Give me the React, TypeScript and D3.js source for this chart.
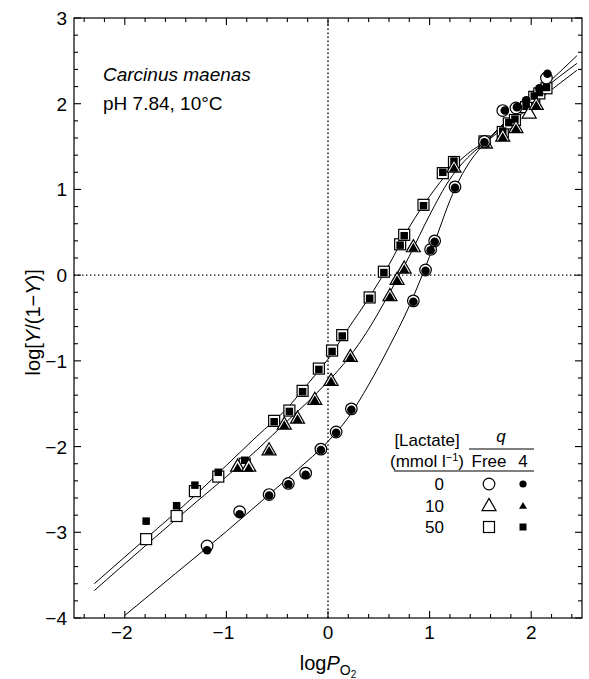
import React from 'react';
import * as d3 from 'd3';

// log PO2 vs log[Y/(1-Y)], Carcinus maenas
const xTickLabels = [-2, -1, 0, 1, 2];
const yTickLabels = [-4, -3, -2, -1, 0, 1, 2, 3];

// lactate 0 mmol/l
const circFree = [[-1.19, -3.16], [-0.87, -2.76], [-0.58, -2.56], [-0.39, -2.43], [-0.22, -2.31], [-0.07, -2.03], [0.08, -1.83], [0.23, -1.56], [0.84, -0.30], [0.96, 0.06], [1.01, 0.30], [1.05, 0.40], [1.25, 1.03], [1.54, 1.56], [1.72, 1.92], [1.85, 1.95], [2.15, 2.30]];
const circQ4 = [[-1.19, -3.21], [-0.87, -2.79], [-0.58, -2.57], [-0.39, -2.44], [-0.22, -2.33], [-0.07, -2.04], [0.08, -1.84], [0.23, -1.57], [0.84, -0.31], [0.96, 0.05], [1.01, 0.29], [1.05, 0.39], [1.25, 1.02], [1.54, 1.55], [1.74, 1.92], [1.86, 1.96], [1.95, 2.04], [2.08, 2.18], [2.16, 2.35]];
// lactate 10
const triFree = [[-0.89, -2.24], [-0.78, -2.24], [-0.58, -2.05], [-0.43, -1.75], [-0.30, -1.68], [-0.13, -1.46], [0.03, -1.24], [0.22, -0.96], [0.61, -0.25], [0.68, -0.06], [0.75, 0.07], [0.84, 0.32], [1.24, 1.25], [1.55, 1.53], [1.72, 1.61], [1.85, 1.71], [1.98, 1.88], [2.05, 1.98]];
const triQ4 = [[-0.89, -2.26], [-0.78, -2.26], [-0.58, -2.06], [-0.43, -1.76], [-0.30, -1.69], [-0.13, -1.47], [0.03, -1.25], [0.22, -0.97], [0.61, -0.26], [0.68, -0.07], [0.75, 0.06], [0.84, 0.31], [1.24, 1.24], [1.55, 1.52], [1.72, 1.60], [1.85, 1.70], [2.05, 1.97]];
// lactate 50
const sqFree = [[-1.79, -3.08], [-1.49, -2.81], [-1.31, -2.52], [-1.08, -2.35], [-0.82, -2.20], [-0.53, -1.70], [-0.38, -1.58], [-0.25, -1.35], [-0.09, -1.09], [0.04, -0.88], [0.14, -0.70], [0.41, -0.26], [0.55, 0.04], [0.71, 0.36], [0.75, 0.47], [0.94, 0.82], [1.13, 1.19], [1.24, 1.32], [1.54, 1.56], [1.72, 1.67], [1.78, 1.77], [1.84, 1.81], [1.95, 1.96], [2.03, 2.08], [2.08, 2.12], [2.15, 2.18]];
const sqQ4 = [[-1.79, -2.87], [-1.49, -2.69], [-1.31, -2.45], [-1.08, -2.30], [-0.82, -2.16], [-0.53, -1.71], [-0.38, -1.59], [-0.25, -1.36], [-0.09, -1.10], [0.04, -0.89], [0.14, -0.71], [0.41, -0.27], [0.55, 0.03], [0.71, 0.35], [0.75, 0.46], [0.94, 0.81], [1.13, 1.20], [1.24, 1.33], [1.54, 1.55], [1.72, 1.68], [1.78, 1.78], [1.84, 1.82], [1.95, 1.97], [2.03, 2.09], [2.08, 2.13], [2.15, 2.19]];

// fitted curves
const fit0 = [[-2.0, -3.97], [-1.5, -3.48], [-1.0, -2.99], [-0.6, -2.58], [-0.3, -2.27], [0, -1.94], [0.2, -1.66], [0.4, -1.28], [0.6, -0.84], [0.8, -0.36], [0.9, -0.08], [1.0, 0.22], [1.1, 0.55], [1.2, 0.87], [1.3, 1.13], [1.4, 1.33], [1.55, 1.55], [1.8, 1.85], [2.1, 2.17], [2.45, 2.56]];
const fit10 = [[-2.3, -3.68], [-1.8, -3.16], [-1.3, -2.65], [-1.0, -2.35], [-0.7, -2.04], [-0.4, -1.70], [-0.2, -1.48], [0, -1.24], [0.2, -0.97], [0.4, -0.63], [0.6, -0.22], [0.8, 0.22], [1.0, 0.70], [1.2, 1.12], [1.4, 1.40], [1.55, 1.55], [1.8, 1.78], [2.1, 2.07], [2.45, 2.39]];
const fit50 = [[-2.3, -3.60], [-1.8, -3.08], [-1.3, -2.56], [-1.0, -2.22], [-0.7, -1.88], [-0.4, -1.55], [-0.2, -1.27], [0, -0.98], [0.2, -0.62], [0.4, -0.27], [0.6, 0.12], [0.8, 0.56], [1.0, 0.92], [1.2, 1.22], [1.4, 1.44], [1.55, 1.56], [1.8, 1.84], [2.1, 2.15], [2.45, 2.47]];

const FONT = 'Liberation Sans, Arial, Helvetica, sans-serif';

const triPath = (s: number) => {
  const h = s * Math.sqrt(3) / 2;
  return `M0,${-h * 2 / 3}L${s / 2},${h / 3}L${-s / 2},${h / 3}Z`;
};

function Marker({kind, filled, x, y, big}: any) {
  const fill = filled ? '#000' : '#fff';
  const sw = filled ? 0 : 1.2;
  if (kind === 'circle') {
    const r = filled ? (big ? 4.3 : 3.6) : 5.8;
    return <circle cx={x} cy={y} r={r} fill={fill} stroke="#000" strokeWidth={sw} />;
  }
  if (kind === 'square') {
    const s = filled ? (big ? 7.5 : 7) : 11;
    return <rect x={x - s / 2} y={y - s / 2} width={s} height={s} fill={fill} stroke="#000" strokeWidth={sw} />;
  }
  const s = filled ? (big ? 10 : 8) : 14;
  return <path transform={`translate(${x},${y})`} d={triPath(s)} fill={fill} stroke="#000" strokeWidth={sw} />;
}

export default function App() {
  const W = 589, H = 679;
  const x = d3.scaleLinear().domain([-2.5, 2.5]).range([74, 582]);
  const y = d3.scaleLinear().domain([-4, 3]).range([618, 18]);
  const [x0, x1] = x.range();
  const [y0, y1] = y.range();

  const line = d3.line<number[]>()
    .x(d => x(d[0]))
    .y(d => y(d[1]))
    .curve(d3.curveMonotoneX);

  const isMajor = (v: number) => Math.abs(v - Math.round(v)) < 1e-6;
  const xt = x.ticks(25);
  const yt = y.ticks(35);

  const series = [
    {kind: 'square', free: sqFree, q4: sqQ4},
    {kind: 'triangle', free: triFree, q4: triQ4},
    {kind: 'circle', free: circFree, q4: circQ4},
  ];

  const legendRows = [
    {label: '0', kind: 'circle'},
    {label: '10', kind: 'triangle'},
    {label: '50', kind: 'square'},
  ];

  return (
    <svg width={W} height={H} style={{position: 'absolute', left: 0, top: 0, background: '#fff'}}
      fontFamily={FONT}>
      {/* zero reference lines */}
      <line x1={x(0)} x2={x(0)} y1={y0} y2={y1} stroke="#000" strokeWidth={1.4} strokeDasharray="1.4 2.6" />
      <line x1={x0} x2={x1} y1={y(0)} y2={y(0)} stroke="#000" strokeWidth={1.4} strokeDasharray="1.4 2.6" />

      {/* ticks */}
      {xt.map(v => {
        const len = isMajor(v) ? 7 : 4;
        return (
          <g key={'xt' + v}>
            <line x1={x(v)} x2={x(v)} y1={y0} y2={y0 - len} stroke="#000" strokeWidth={1.1} />
            <line x1={x(v)} x2={x(v)} y1={y1} y2={y1 + len} stroke="#000" strokeWidth={1.1} />
          </g>
        );
      })}
      {yt.map(v => {
        const len = isMajor(v) ? 7 : 4;
        return (
          <g key={'yt' + v}>
            <line x1={x0} x2={x0 + len} y1={y(v)} y2={y(v)} stroke="#000" strokeWidth={1.1} />
            <line x1={x1} x2={x1 - len} y1={y(v)} y2={y(v)} stroke="#000" strokeWidth={1.1} />
          </g>
        );
      })}
      <rect x={x0} y={y1} width={x1 - x0} height={y0 - y1} fill="none" stroke="#000" strokeWidth={1.2} />

      {/* tick labels */}
      {xTickLabels.map(v => (
        <text key={'xl' + v} x={x(v) - (v < 0 ? 3 : 0)} y={y0 + 21} textAnchor="middle" fontSize={19}>
          {v < 0 ? '\u2212' + Math.abs(v) : v}
        </text>
      ))}
      {yTickLabels.map(v => (
        <text key={'yl' + v} x={67} y={y(v) + 7} textAnchor="end" fontSize={19}>
          {v < 0 ? '\u2212' + Math.abs(v) : v}
        </text>
      ))}

      {/* axis titles */}
      <text transform={`translate(40,${y(-0.55)}) rotate(-90)`} textAnchor="middle" fontSize={20}>
        log[<tspan fontStyle="italic">Y</tspan>/(1{'\u2212'}<tspan fontStyle="italic">Y</tspan>)]
      </text>
      <text x={x(0)} y={670} textAnchor="middle" fontSize={20}>
        log<tspan fontStyle="italic">P</tspan><tspan fontSize={14} dy={5}>O</tspan><tspan fontSize={10} dy={3}>2</tspan>
      </text>

      {/* fitted curves */}
      {[fit0, fit10, fit50].map((c, i) => (
        <path key={'fit' + i} d={line(c) || ''} fill="none" stroke="#000" strokeWidth={1} />
      ))}

      {/* data */}
      {series.map(s => (
        <g key={s.kind}>
          {s.free.map((d, i) => <Marker key={'f' + i} kind={s.kind} filled={false} x={x(d[0])} y={y(d[1])} />)}
          {s.q4.map((d, i) => <Marker key={'q' + i} kind={s.kind} filled={true} big x={x(d[0])} y={y(d[1])} />)}
        </g>
      ))}

      {/* annotation */}
      <text x={103} y={81} fontSize={19} fontStyle="italic">Carcinus maenas</text>
      <text x={103} y={110} fontSize={19}>pH 7.84, 10°C</text>

      {/* legend */}
      <g fontSize={17}>
        <text x={427} y={446} textAnchor="middle">[Lactate]</text>
        <text x={427} y={467} textAnchor="middle">(mmol l<tspan fontSize={11} dy={-6}>{'\u2212'}1</tspan><tspan dy={6}>)</tspan></text>
        <text x={501} y={442} textAnchor="middle" fontStyle="italic">q</text>
        <line x1={469} x2={534} y1={449} y2={449} stroke="#000" strokeWidth={1.2} />
        <text x={489} y={467} textAnchor="middle">Free</text>
        <text x={523} y={467} textAnchor="middle">4</text>
        <line x1={394} x2={534} y1={471} y2={471} stroke="#000" strokeWidth={1.2} />
        {legendRows.map((r, i) => {
          const cy = 484 + i * 21.5;
          return (
            <g key={'lg' + r.label}>
              <text x={444} y={cy + 6} textAnchor="end">{r.label}</text>
              <Marker kind={r.kind} filled={false} x={489} y={cy + (r.kind === 'triangle' ? 1 : 0)} />
              <Marker kind={r.kind} filled={true} x={523} y={cy + (r.kind === 'triangle' ? 1 : 0)} />
            </g>
          );
        })}
      </g>
    </svg>
  );
}
